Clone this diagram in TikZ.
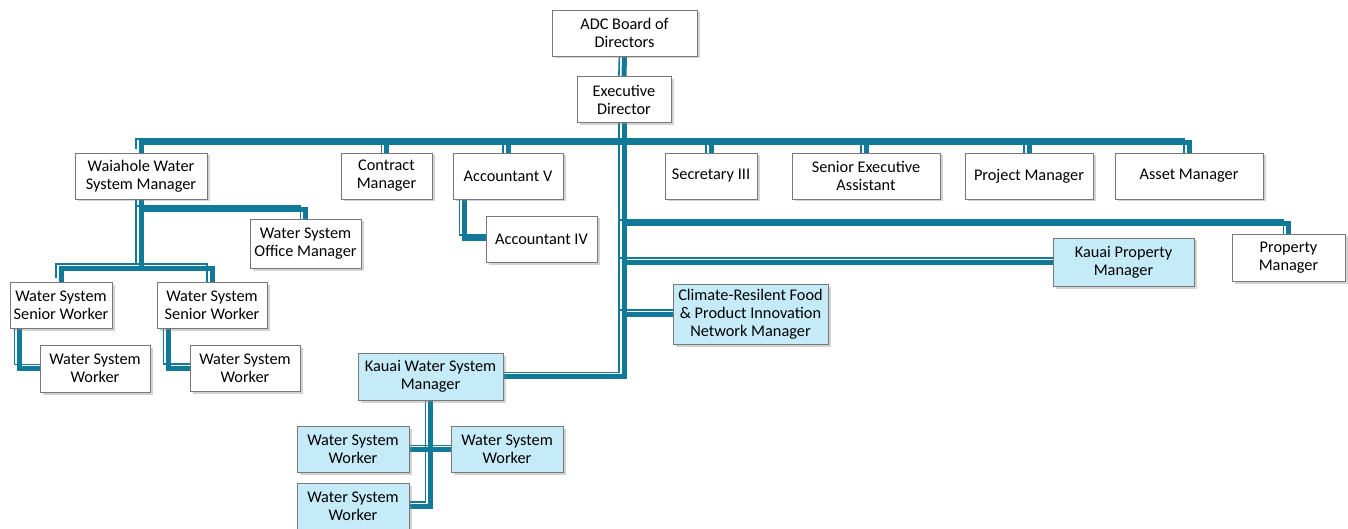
\documentclass[tikz,border=0pt]{standalone}
\usepackage{fontspec}
\setmainfont{Carlito}
\usepackage{tikz}
\usetikzlibrary{shadows,backgrounds}

\definecolor{adcteal}{RGB}{18,122,153}
\definecolor{adcline}{RGB}{120,120,120}
\definecolor{adcblue}{RGB}{197,235,249}

\tikzset{
  box/.style={draw=adcline, line width=0.9pt, fill=white, align=center,
    minimum height=46pt, inner sep=2pt,
    font=\fontsize{16.3}{18}\selectfont,
    drop shadow={shadow xshift=2.5pt, shadow yshift=-2.5pt, opacity=0.35}},
  kauaibox/.style={box, fill=adcblue},
  link/.style={draw=adcteal, line width=5pt, shorten >=-6pt,
    preaction={draw=adcteal, line width=1.6pt,
      transform canvas={shift={(-5pt,4pt)}}}}
}

\begin{document}
\begin{tikzpicture}[x=1pt,y=1pt,yscale=-1]
    \useasboundingbox (0,0) rectangle (1348,529);

    % top
    \node [box, minimum width=145] (board) at (624.5,33) {ADC Board of\\Directors};
    \node [box, minimum width=94] (exec) at (624,99.5) {Executive\\Director};

    % first row
    \node [box, minimum width=132] (waiahole) at (141,176) {Waiahole Water\\System Manager};
    \node [box, minimum width=91] (contract) at (386.5,176) {Contract\\Manager};
    \node [box, minimum width=110] (acc5) at (508,176) {Accountant V};
    \node [box, minimum width=92] (sec3) at (711,176) {Secretary III};
    \node [box, minimum width=148] (seniorexec) at (866,176) {Senior Executive\\Assistant};
    \node [box, minimum width=128] (project) at (1029,176) {Project Manager};
    \node [box, minimum width=148] (asset) at (1189,176) {Asset Manager};

    % second level
    \node [box, minimum width=111, minimum height=49] (office) at (305.5,243.5) {Water System\\Office Manager};
    \node [box, minimum width=111] (acc4) at (541.5,239) {Accountant IV};
    \node [box, minimum width=113, minimum height=47] (prop) at (1288.5,257.5) {Property\\Manager};
    \node [kauaibox, minimum width=141, minimum height=48] (kprop) at (1123.5,262) {Kauai Property\\Manager};
    \node [kauaibox, minimum width=155, minimum height=60] (climate) at (750.5,314) {Climate-Resilent Food\\\& Product Innovation\\Network Manager};

    % waiahole crew
    \node [box, minimum width=102] (seniorl) at (61,305) {Water System\\Senior Worker};
    \node [box, minimum width=110] (seniorr) at (212,305) {Water System\\Senior Worker};
    \node [box, minimum width=110, minimum height=47] (workerl) at (95,368.5) {Water System\\Worker};
    \node [box, minimum width=110] (workerr) at (245,368) {Water System\\Worker};

    % kauai crew
    \node [kauaibox, minimum width=145, minimum height=47] (kwsm) at (430.5,376.5) {Kauai Water System\\Manager};
    \node [kauaibox, minimum width=112] (kworka) at (353,449.5) {Water System\\Worker};
    \node [kauaibox, minimum width=112] (kworkb) at (507,449.5) {Water System\\Worker};
    \node [kauaibox, minimum width=112] (kworkc) at (353,506) {Water System\\Worker};

    \coordinate (topbus) at (624,143);
    \coordinate (propbus) at (624,224);
    \coordinate (wbus) at (141,268);
    \coordinate (obus) at (141,210);

    \begin{scope}[on background layer]
    \draw [link] (board.south) -- (exec.north);
    \draw [link] (exec.south) |- (kwsm.east);
    \draw [link] (waiahole.north) |- (topbus) -| (asset.north);
    \foreach \n in {contract,acc5,sec3,seniorexec,project}
        \draw [link] (\n.north |- topbus) -- (\n.north);
    \draw [link] (propbus) -| (prop.north);
    \draw [link] (exec.south |- kprop.west) -- (kprop.west);
    \draw [link] (exec.south |- climate.west) -- (climate.west);

    \draw [link] (wbus) -- (waiahole.south);
    \draw [link] (seniorl.north) |- (wbus) -| (seniorr.north);
    \draw [link] (obus) -| (office.north);
    \draw [link] ([xshift=10]seniorl.south west) |- (workerl.west);
    \draw [link] ([xshift=12]seniorr.south west) |- (workerr.west);
    \draw [link] ([xshift=12]acc5.south west) |- (acc4.west);

    \draw [link] (kwsm.south) |- (kworkc.east);
    \draw [link] (kworka.east) -- (kworkb.west);
    \end{scope}
\end{tikzpicture}
\end{document}
